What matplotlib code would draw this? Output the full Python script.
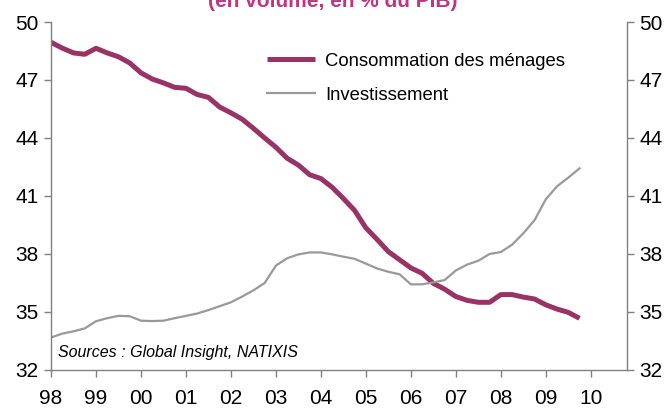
import matplotlib
matplotlib.use("Agg")
import matplotlib.pyplot as plt
import numpy as np

plt.rcParams['font.family'] = ['Liberation Sans', 'DejaVu Sans']

start_year = 1998
conso = [48.95, 48.65, 48.4, 48.33, 48.64, 48.4, 48.2, 47.88,
         47.37, 47.05, 46.85, 46.62, 46.57, 46.25, 46.1, 45.6,
         45.3, 44.97, 44.5, 44.0, 43.52, 42.95, 42.6, 42.1,
         41.9, 41.45, 40.87, 40.25, 39.35, 38.75, 38.12, 37.7,
         37.28, 37.0, 36.48, 36.18, 35.8, 35.6, 35.5, 35.5,
         35.9, 35.9, 35.77, 35.67, 35.37, 35.15, 34.98, 34.67]
invest = [33.68, 33.88, 34.0, 34.15, 34.52, 34.68, 34.8, 34.78,
          34.55, 34.53, 34.55, 34.68, 34.8, 34.92, 35.1, 35.3,
          35.5, 35.8, 36.12, 36.5, 37.4, 37.78, 37.98, 38.08,
          38.08, 37.98, 37.86, 37.75, 37.5, 37.25, 37.08, 36.95,
          36.43, 36.43, 36.53, 36.65, 37.15, 37.45, 37.65, 38.0,
          38.1, 38.48, 39.07, 39.75, 40.83, 41.5, 41.95, 42.43]
year_labels = ['98', '99', '00', '01', '02', '03', '04', '05', '06', '07', '08', '09', '10']
y_ticks = [32, 35, 38, 41, 44, 47, 50]

series_names = ['Consommation des ménages', 'Investissement']
title = '(en volume, en % du PIB)'
source = 'Sources : Global Insight, NATIXIS'

x = start_year + np.arange(len(conso)) / 4.0

fig = plt.figure(figsize=(6.66, 4.12), dpi=100)
ax = fig.add_axes([0.0766, 0.102, 0.8645, 0.8446])

c_conso = '#993366'
c_inv = '#999999'
l1, = ax.plot(x, conso, color=c_conso, lw=3.6, solid_capstyle='butt', solid_joinstyle='round')
l2, = ax.plot(x, invest, color=c_inv, lw=1.6, solid_joinstyle='round')

ax.set_xlim(1998.0, 2010.8)
ax.set_ylim(32, 50)
ax.set_yticks(y_ticks)
ax.set_yticklabels([str(v) for v in y_ticks])
xt = [start_year + i for i in range(len(year_labels))]
ax.set_xticks(xt)
ax.set_xticklabels(year_labels)

spine_col = '#808080'
for s in ['left', 'right', 'bottom']:
    ax.spines[s].set_color(spine_col)
    ax.spines[s].set_linewidth(1.0)
ax.spines['top'].set_visible(False)

ax.tick_params(axis='both', direction='out', length=5, width=1.0, color=spine_col,
               labelsize=15, labelcolor='black')
ax.tick_params(axis='x', pad=9)
ax.tick_params(axis='y', pad=4)

ax2 = ax.twinx()
ax2.set_ylim(32, 50)
ax2.set_yticks(y_ticks)
ax2.set_yticklabels([str(v) for v in y_ticks])
for s in ['left', 'right', 'bottom', 'top']:
    ax2.spines[s].set_visible(False)
ax2.tick_params(axis='y', direction='out', length=5, width=1.0, color=spine_col,
                labelsize=15, labelcolor='black', pad=4)

ax.legend([l1, l2], series_names, loc='upper left', bbox_to_anchor=(0.362, 0.933),
          frameon=False, fontsize=13.3, handlelength=2.6, handletextpad=0.55,
          labelspacing=0.93, borderaxespad=0.0)

ax.text(0.012, 0.05, source, transform=ax.transAxes, fontsize=11.5, style='italic',
        ha='left', va='center')

fig.text(0.5, 1.0 - 7 / 412, title, ha='center', va='baseline', fontsize=15,
         fontweight='bold', color='#C0357F')

fig.savefig('out.png', dpi=100)
